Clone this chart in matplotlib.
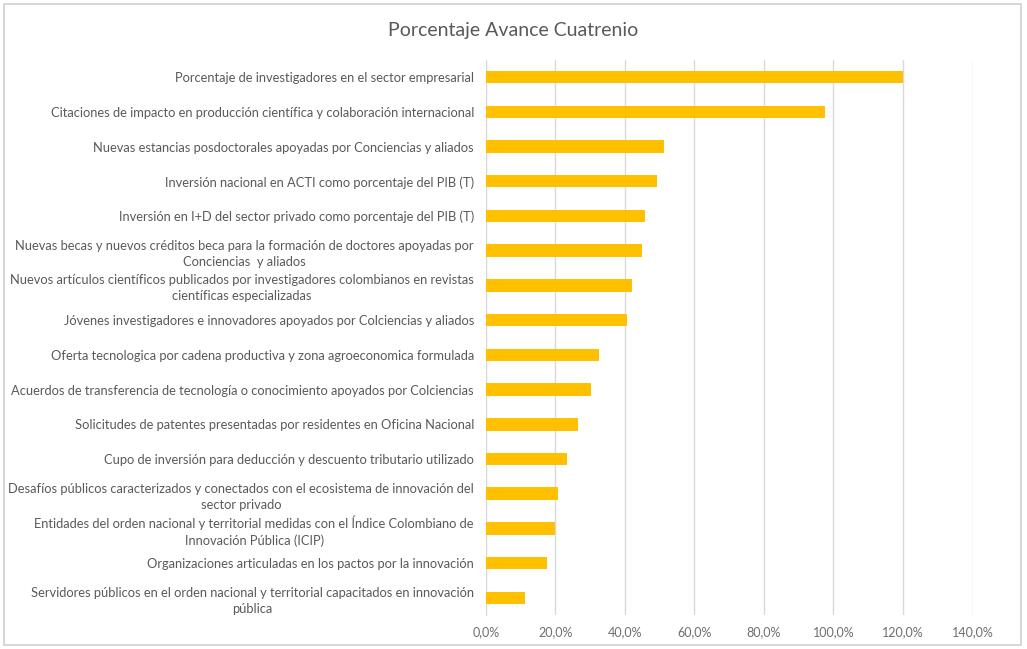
import matplotlib.pyplot as plt
from matplotlib.patches import Rectangle
from matplotlib.ticker import FuncFormatter

indicadores = [
    "Porcentaje de investigadores en el sector empresarial",
    "Citaciones de impacto en producción científica y colaboración internacional",
    "Nuevas estancias posdoctorales apoyadas por Conciencias y aliados",
    "Inversión nacional en ACTI como porcentaje del PIB (T)",
    "Inversión en I+D del sector privado como porcentaje del PIB (T)",
    "Nuevas becas y nuevos créditos beca para la formación de doctores apoyadas por\nConciencias  y aliados",
    "Nuevos artículos científicos publicados por investigadores colombianos en revistas\ncientíficas especializadas",
    "Jóvenes investigadores e innovadores apoyados por Colciencias y aliados",
    "Oferta tecnologica por cadena productiva y zona agroeconomica formulada",
    "Acuerdos de transferencia de tecnología o conocimiento apoyados por Colciencias",
    "Solicitudes de patentes presentadas por residentes en Oficina Nacional",
    "Cupo de inversión para deducción y descuento tributario utilizado",
    "Desafíos públicos caracterizados y conectados con el ecosistema de innovación del\nsector privado",
    "Entidades del orden nacional y territorial medidas con el Índice Colombiano de\nInnovación Pública (ICIP)",
    "Organizaciones articuladas en los pactos por la innovación",
    "Servidores públicos en el orden nacional y territorial capacitados en innovación\npública",
]
avance = [120.0, 97.7, 51.4, 49.2, 45.7, 45.0, 42.0, 40.5, 32.5, 30.4,
          26.6, 23.5, 20.7, 19.9, 17.7, 11.4]
ticks_x = [0, 20, 40, 60, 80, 100, 120, 140]

gris = "#595959"
plt.rcParams['font.family'] = ['Lato', 'DejaVu Sans']

fig = plt.figure(figsize=(10.27, 6.49), dpi=100)
fig.patches.append(Rectangle((0.004, 0.006), 0.99, 0.988, transform=fig.transFigure,
                             fill=False, edgecolor="#d0d0d0", linewidth=1.2))
ax = fig.add_axes([0.473, 0.052, 0.474, 0.856])

pos = list(range(len(indicadores)))
ax.barh(pos, avance, height=0.36, color="#ffc000", zorder=3)
ax.set_ylim(len(indicadores) - 0.5, -0.5)
ax.set_xlim(0, 140)
ax.set_xticks(ticks_x)
ax.xaxis.set_major_formatter(FuncFormatter(lambda v, p: f"{v:.1f}%".replace(".", ",")))
ax.set_yticks(pos)
ax.set_yticklabels(indicadores, fontsize=9.25, color=gris)
for t in ax.get_yticklabels():
    t.set_multialignment("center")
    t.set_linespacing(1.4)

ax.grid(axis="x", color="#d9d9d9", linewidth=1, zorder=0)
for s in ["top", "right", "bottom"]:
    ax.spines[s].set_visible(False)
ax.spines["left"].set_color("#d9d9d9")
ax.tick_params(axis="both", length=0)
ax.tick_params(axis="y", pad=8.5)
ax.tick_params(axis="x", pad=8, labelsize=9, colors="#6e6e6e")

fig.text(0.5, 0.953, "Porcentaje Avance Cuatrenio", ha="center", va="center",
         fontsize=14, color=gris)

fig.savefig("out.png", dpi=100)
